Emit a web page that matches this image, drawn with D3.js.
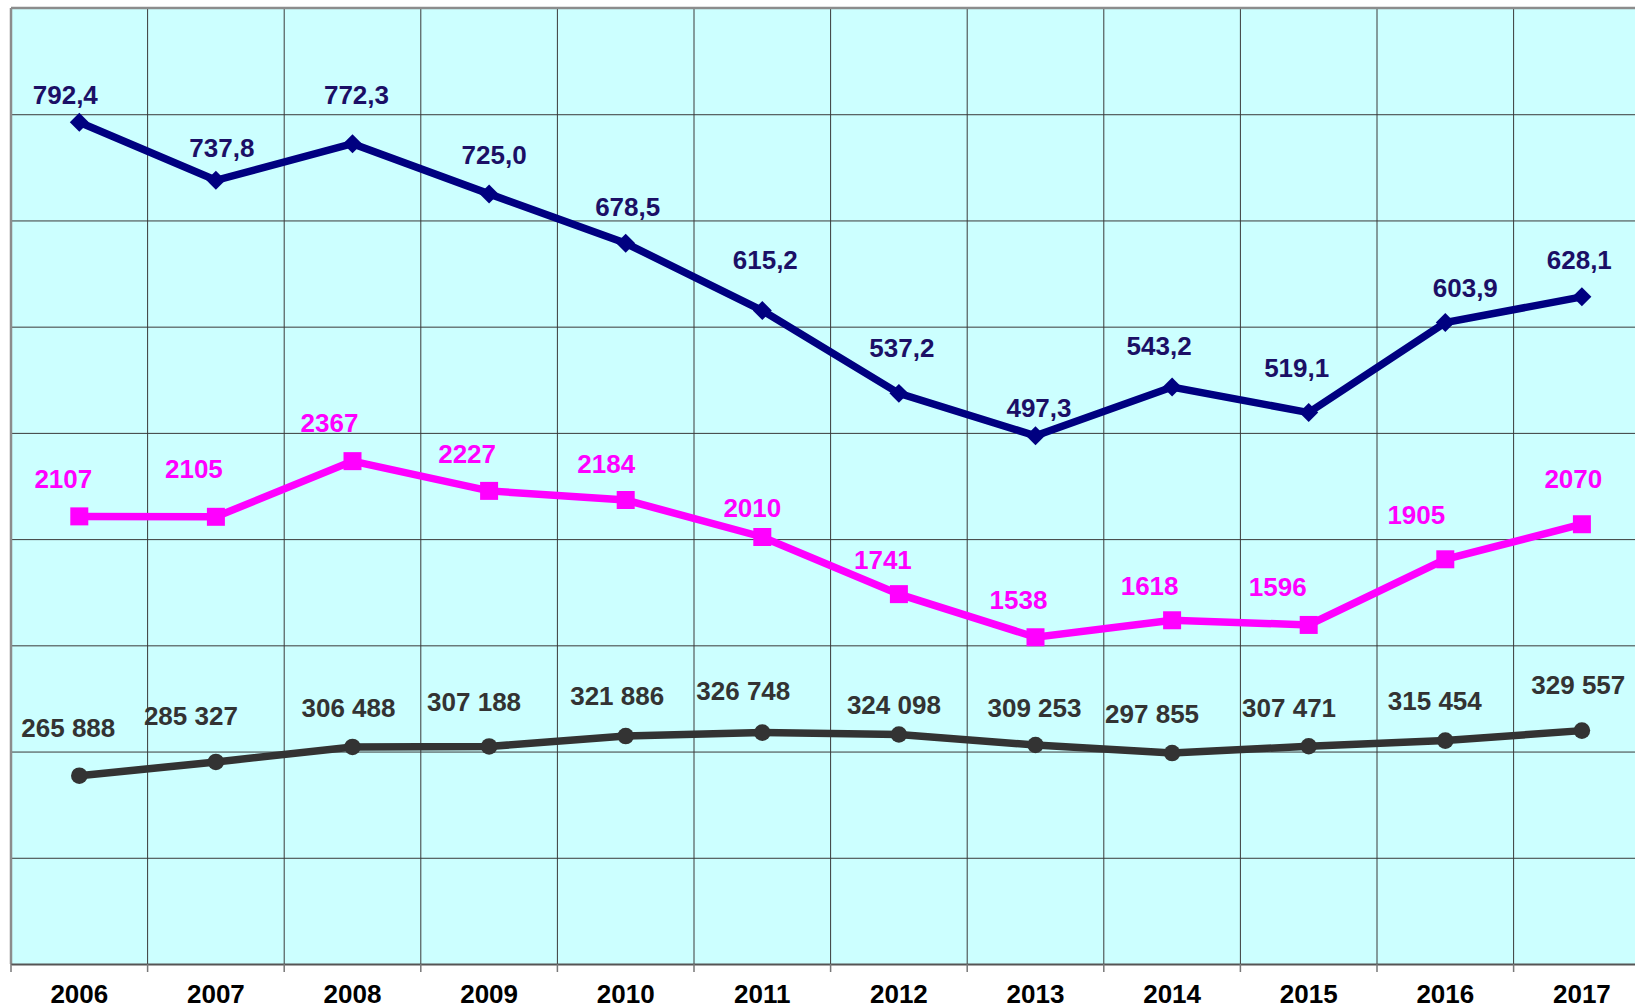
<!DOCTYPE html>
<html>
<head>
<meta charset="utf-8">
<script src="https://cdn.jsdelivr.net/npm/d3@7"></script>
<style>
  html, body { margin: 0; padding: 0; background: #ffffff; }
  svg { display: block; }
  text { font-family: "Liberation Sans", Arial, sans-serif; font-weight: bold; }
</style>
</head>
<body>
<svg id="chart" width="1635" height="1008"></svg>
<script>
// ---------- data ----------
const years = ["2006","2007","2008","2009","2010","2011","2012","2013","2014","2015","2016","2017"];
const navyValues = [792.4, 737.8, 772.3, 725.0, 678.5, 615.2, 537.2, 497.3, 543.2, 519.1, 603.9, 628.1];
const magentaValues = [2107, 2105, 2367, 2227, 2184, 2010, 1741, 1538, 1618, 1596, 1905, 2070];
const blackValues = [265888, 285327, 306488, 307188, 321886, 326748, 324098, 309253, 297855, 307471, 315454, 329557];
// hidden axis ranges (9 grid intervals each)
const navyTicks = [0, 100, 200, 300, 400, 500, 600, 700, 800, 900];
const magentaDomain = [0, 4500];
const blackDomain = [0, 1350000];

// ---------- layout (label nudges, px) ----------
const navyLabelOffsets = [[-14,-18],[6,-23],[4,-40],[5,-30],[2,-27],[3,-42],[3,-36],[3.5,-19],[-13,-32],[-12,-36],[20,-26],[-2.6,-28]];
const magentaLabelOffsets = [[-16,-28],[-22,-39],[-23,-29],[-22,-28],[-19.5,-27],[-10,-20],[-16,-25],[-17,-28],[-22.5,-25],[-31,-29],[-29,-35],[-8.6,-36.6]];
const blackLabelOffsets = [[-11,-39],[-25,-37],[-4,-30],[-15,-35],[-8.5,-31],[-19,-32.6],[-5,-20],[-1,-28],[-20,-30],[-19.6,-29],[-10.5,-31],[-3.6,-36.6]];

(function () {
const svg = d3.select("#chart");
const pLeft = 11, pTop = 8, pBottom = 964, step = 136.6;
const pRight = pLeft + step * years.length;

const x = d3.scaleBand().domain(years).range([pLeft, pRight]).padding(0);
const yNavy = d3.scaleLinear().domain([0, 900]).range([pBottom, pTop]);
const yMag = d3.scaleLinear().domain(magentaDomain).range([pBottom, pTop]);
const yBlack = d3.scaleLinear().domain(blackDomain).range([pBottom, pTop]);

// background
svg.append("rect").attr("x", pLeft).attr("y", pTop).attr("width", pRight - pLeft).attr("height", pBottom - pTop)
  .attr("fill", "#ccffff");

// horizontal grid
svg.append("g").attr("transform", `translate(${pLeft},0)`)
  .call(d3.axisLeft(yNavy).tickValues(navyTicks).tickSize(-(pRight - pLeft)).tickFormat(""))
  .call(g => g.select(".domain").remove())
  .call(g => g.selectAll(".tick line").attr("stroke", "#3a3a3a").attr("stroke-width", 1));

// vertical grid at category boundaries
const bounds = years.slice(1).map(y => x(y));
svg.append("g").selectAll("line").data(bounds).join("line")
  .attr("x1", d => d).attr("x2", d => d).attr("y1", pTop).attr("y2", pBottom)
  .attr("stroke", "#3a3a3a").attr("stroke-width", 1);

// borders
svg.append("line").attr("x1", pLeft).attr("x2", pRight).attr("y1", pTop).attr("y2", pTop)
  .attr("stroke", "#8c8c8c").attr("stroke-width", 2.5);
svg.append("line").attr("x1", pLeft).attr("x2", pLeft).attr("y1", pTop).attr("y2", pBottom)
  .attr("stroke", "#8c8c8c").attr("stroke-width", 2.5);

// x axis
const xAxis = svg.append("g").attr("transform", `translate(0,${pBottom})`)
  .call(d3.axisBottom(x).tickSize(0).tickPadding(0));
xAxis.select(".domain").attr("stroke", "#555").attr("stroke-width", 2);
xAxis.selectAll(".tick text").attr("font-size", 26).attr("fill", "#000")
  .attr("font-family", "'Liberation Sans', Arial, sans-serif").attr("font-weight", "bold")
  .attr("y", 38.5).attr("dy", 0);
// tick marks at boundaries
svg.append("g").selectAll("line").data([pLeft, ...bounds]).join("line")
  .attr("x1", d => d).attr("x2", d => d).attr("y1", pBottom).attr("y2", pBottom + 8)
  .attr("stroke", "#777").attr("stroke-width", 1.5);

const cx = d => x(d) + x.bandwidth() / 2;

function drawSeries(values, yScale, color, lineWidth, symbol, symSize, rotate, labelColor, fmt, offsets) {
  const g = svg.append("g");
  const pts = values.map((v, i) => ({ x: cx(years[i]), y: yScale(v), v, i }));
  g.append("path").datum(pts)
    .attr("d", d3.line().x(d => d.x).y(d => d.y))
    .attr("fill", "none").attr("stroke", color).attr("stroke-width", lineWidth)
    .attr("stroke-linejoin", "miter");
  g.selectAll("path.m").data(pts).join("path").attr("class", "m")
    .attr("d", d3.symbol().type(symbol).size(symSize))
    .attr("transform", d => `translate(${d.x},${d.y}) rotate(${rotate})`)
    .attr("fill", color);
  g.selectAll("text").data(pts).join("text")
    .attr("x", d => d.x + offsets[d.i][0])
    .attr("y", d => d.y + offsets[d.i][1])
    .attr("text-anchor", "middle")
    .attr("font-size", 26)
    .attr("fill", labelColor)
    .text(d => fmt(d.v));
}

const fmtNavy = v => d3.format(".1f")(v).replace(".", ",");
const locale = d3.formatLocale({ decimal: ",", thousands: " ", grouping: [3], currency: ["", ""] });
const fmtBlack = locale.format(",d");
const fmtMag = d3.format("d");

drawSeries(blackValues, yBlack, "#333333", 7.5, d3.symbolCircle, 215, 0, "#333333", fmtBlack, blackLabelOffsets);
drawSeries(magentaValues, yMag, "#ff00ff", 7.5, d3.symbolSquare, 324, 0, "#ff00ff", fmtMag, magentaLabelOffsets);
drawSeries(navyValues, yNavy, "#000080", 7.5, d3.symbolSquare, 180, 45, "#1b0f66", fmtNavy, navyLabelOffsets);
})();
</script>
</body>
</html>
